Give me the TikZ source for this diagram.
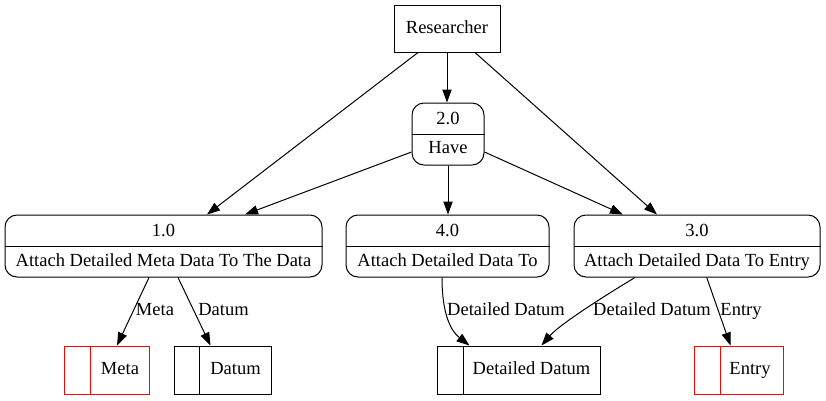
\documentclass[tikz,border=0pt]{standalone}
\usepackage{fontspec}
\setmainfont{Liberation Serif}
\usetikzlibrary{arrows.meta,calc}
\begin{document}
\begin{tikzpicture}[x=1pt,y=-1pt,
  every node/.style={font=\fontsize{18.5}{22}\selectfont, inner sep=0pt},
  ext/.style={draw, line width=1pt, inner sep=0pt},
  proc/.style={draw, line width=1pt, rounded corners=12pt, inner sep=0pt, minimum height=62pt},
  store/.style={draw, line width=1pt, inner sep=0pt, minimum height=48pt},
  redstore/.style={store, draw=red},
  lbl/.style={anchor=base, inner sep=0pt},
  divline/.style={line width=1pt},
  flow/.style={draw, line width=1pt, -{Triangle[length=13pt,width=9.3pt]}}
]
\useasboundingbox (0,0) rectangle (826,400);

% external entity
\node[ext, minimum width=106pt, minimum height=47pt] (r) at (447,28.5) {};
\node[lbl] (rt) at ($(r.center)+(0,5)$) {Researcher};

% processes
\node[proc, minimum width=72pt] (p2) at (448,134) {};
\draw[divline] (p2.west) -- (p2.east);
\node[lbl] (p2a) at ($(p2.center)+(0,-10)$) {2.0};
\node[lbl] (p2b) at ($(p2.center)+(0,19)$) {Have};

\node[proc, minimum width=317pt] (p1) at (163.5,246) {};
\draw[divline] (p1.west) -- (p1.east);
\node[lbl] (p1a) at ($(p1.center)+(0,-10)$) {1.0};
\node[lbl] (p1b) at ($(p1.center)+(0,20)$) {Attach Detailed Meta Data To The Data};

\node[proc, minimum width=203pt] (p4) at (447.5,246) {};
\draw[divline] (p4.west) -- (p4.east);
\node[lbl] (p4a) at ($(p4.center)+(0,-10)$) {4.0};
\node[lbl] (p4b) at ($(p4.center)+(0,20)$) {Attach Detailed Data To};

\node[proc, minimum width=246pt] (p3) at (697,246) {};
\draw[divline] (p3.west) -- (p3.east);
\node[lbl] (p3a) at ($(p3.center)+(0,-10)$) {3.0};
\node[lbl] (p3b) at ($(p3.center)+(0,20)$) {Attach Detailed Data To Entry};

% data stores
\node[redstore, minimum width=85pt] (sm) at (106.5,370) {};
\draw[divline, red] ([xshift=27pt]sm.north west) -- ([xshift=27pt]sm.south west);
\node[lbl] (smt) at (120,374.5) {Meta};

\node[store, minimum width=97pt] (sd) at (222.5,370) {};
\draw[divline] ([xshift=26pt]sd.north west) -- ([xshift=26pt]sd.south west);
\node[lbl] (sdt) at (235.5,374.5) {Datum};

\node[store, minimum width=163pt] (sdd) at (518.5,370) {};
\draw[divline] ([xshift=27pt]sdd.north west) -- ([xshift=27pt]sdd.south west);
\node[lbl] (sddt) at (531.5,374.5) {Detailed Datum};

\node[redstore, minimum width=89pt] (se) at (738.5,370) {};
\draw[divline, red] ([xshift=27pt]se.north west) -- ([xshift=27pt]se.south west);
\node[lbl] (set) at (750,374.5) {Entry};

% flows
\draw[flow] ([xshift=-29pt]r.south) -- ([xshift=43.5pt]p1.north);
\draw[flow] (r.south) -- (r.south |- p2.north);
\draw[flow] ([xshift=28pt]r.south) -- ([xshift=-40pt]p3.north);
\draw[flow] ([yshift=-18pt]p2.west) -- ([xshift=81.5pt]p1.north);
\draw[flow] (p2.south) -- (p2.south |- p4.north);
\draw[flow] ([yshift=-18pt]p2.east) -- ([xshift=-74pt]p3.north);

\draw[flow] ([xshift=-14.5pt]p1.south) -- ([xshift=10.5pt]sm.north);
\draw[flow] ([xshift=14.5pt]p1.south) -- ([xshift=-12pt]sd.north);
\draw[flow] ([xshift=-5.5pt]p4.south) .. controls +(0,38) and +(-18,-14) .. ([xshift=-49pt]sdd.north);
\draw[flow] ([xshift=-62pt]p3.south) .. controls +(-30,18) and +(18,-21) .. ([xshift=23pt]sdd.north);
\draw[flow] ([xshift=9.7pt]p3.south) -- ([xshift=-8pt]se.north);

% flow labels
\node[lbl] (l1) at (155,315) {Meta};
\node[lbl] (l2) at (223.5,315) {Datum};
\node[lbl] (l3) at (506,315) {Detailed Datum};
\node[lbl] (l4) at (652,315) {Detailed Datum};
\node[lbl] (l5) at (741,315) {Entry};
\end{tikzpicture}
\end{document}
